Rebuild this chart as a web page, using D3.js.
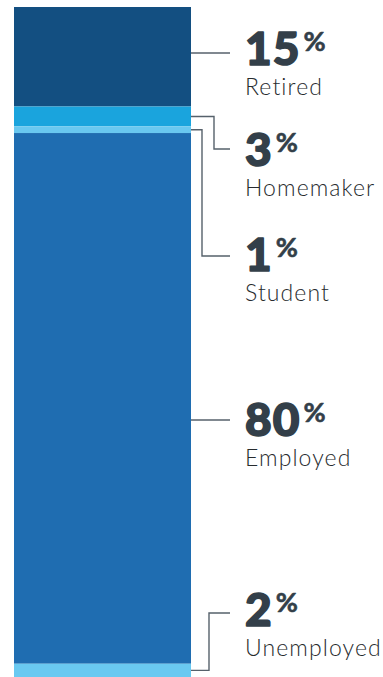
<!DOCTYPE html>
<html>
<head>
<meta charset="utf-8">
<script src="https://cdn.jsdelivr.net/npm/d3@7"></script>
<style>
  html, body { margin: 0; padding: 0; background: #fff; }
  svg { display: block; }
</style>
</head>
<body>
<div id="chart"></div>
<script>
// Employment status shares (percent)
const categories = ["Retired", "Homemaker", "Student", "Employed", "Unemployed"];
const values = [15, 3, 1, 80, 2];
const valueLabels = ["15", "3", "1", "80", "2"];

const palette = ["#134f81", "#1aa4dd", "#69c8f0", "#1f6db1", "#69c9f1"];

const W = 383, H = 677;
const bar = { x0: 14, x1: 191, top: 7 };
const labelX = 245;
const lineEndX = 230;
// leader row heights and elbow columns for each annotation
const leaderY = [53, 149, 256, 420, 613];
const elbowX = [null, 214, 202, null, 209];
const numberBaseline = [65, 166, 271, 436, 626];

const svg = d3.select("#chart").append("svg")
  .attr("width", W).attr("height", H);

const total = d3.sum(values);
const y = d3.scaleLinear().domain([0, total]).range([bar.top, H]);
const color = d3.scaleOrdinal().domain(categories).range(palette);

const stacked = values.map((v, i) => {
  const start = d3.sum(values.slice(0, i));
  return { cat: categories[i], value: v, y0: y(start), y1: y(start + v), i };
});

svg.append("g").selectAll("rect")
  .data(stacked).join("rect")
  .attr("x", bar.x0)
  .attr("width", bar.x1 - bar.x0)
  .attr("y", d => d.y0)
  .attr("height", d => d.y1 - d.y0)
  .attr("fill", d => color(d.cat));

// leader lines
svg.append("g").selectAll("path")
  .data(stacked).join("path")
  .attr("fill", "none")
  .attr("stroke", "#56616b")
  .attr("stroke-width", 1.4)
  .attr("d", d => {
    const ly = leaderY[d.i];
    const ex = elbowX[d.i];
    if (ex == null) return `M${bar.x1},${ly}H${lineEndX}`;
    const my = (d.y0 + Math.min(d.y1, H)) / 2;
    return `M${bar.x1},${my}H${ex}V${ly}H${lineEndX}`;
  });

// annotations
const ann = svg.append("g").selectAll("g")
  .data(stacked).join("g");

const num = ann.append("text")
  .attr("x", labelX)
  .attr("y", d => numberBaseline[d.i])
  .attr("fill", "#333f49")
  .attr("stroke", "#333f49")
  .attr("stroke-linejoin", "round")
  .style("font-family", "Lato, 'Open Sans', sans-serif");

num.append("tspan")
  .attr("stroke-width", 1.6)
  .style("font-size", "46px")
  .style("font-weight", 900)
  .style("letter-spacing", "1px")
  .text(d => valueLabels[d.i]);

num.append("tspan")
  .attr("dx", 3)
  .attr("dy", -14)
  .attr("stroke-width", 0.6)
  .style("font-size", "27px")
  .style("font-weight", 700)
  .text("%");

ann.append("text")
  .attr("x", labelX)
  .attr("y", d => numberBaseline[d.i] + 30)
  .attr("fill", "#272b2e")
  .style("font-family", "Lato, 'Open Sans', sans-serif")
  .style("font-size", "23px")
  .style("font-weight", 300)
  .style("letter-spacing", "1.1px")
  .text(d => d.cat);
</script>
</body>
</html>
